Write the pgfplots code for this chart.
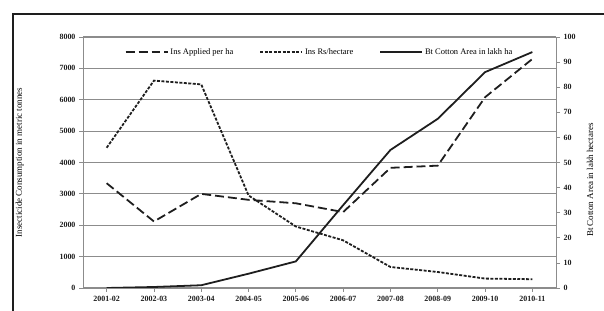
\documentclass[border=0pt]{standalone}
\usepackage{pgfplots}
\pgfplotsset{compat=1.18}
\usepackage{fontspec}
\setmainfont{Liberation Serif}
\definecolor{gridgray}{RGB}{140,140,140}
\definecolor{ink}{RGB}{30,30,30}
\begin{document}
\begin{tikzpicture}
\useasboundingbox (0,0) rectangle (604bp,311bp);
\fill[white] (0,0) rectangle (604bp,311bp);
\draw[line width=2.6pt, ink] (13bp,-20bp) -- (13bp,297bp) -- (640bp,297bp);
\begin{axis}[
  at={(83bp,23bp)}, anchor=south west,
  scale only axis, width=473bp, height=251bp,
  xmin=-0.5, xmax=9.5, ymin=0, ymax=8000,
  xtick={0,...,9},
  xticklabels={2001-02,2002-03,2003-04,2004-05,2005-06,2006-07,2007-08,2008-09,2009-10,2010-11},
  ytick={0,1000,...,8000},
  /pgf/number format/1000 sep={},
  /pgf/number format/assume math mode=true,
  ymajorgrids,
  grid style={gridgray, line width=1.2pt},
  axis line style={gridgray, line width=1pt},
  axis x line*=bottom, axis y line*=left,
  tick style={gridgray, line width=0.8pt},
  major tick length=4bp,
  tick align=outside,
  ticklabel style={font=\fontsize{8}{9}\selectfont\bfseries, text=ink},
  xticklabel style={yshift=-1bp},
  ylabel={Insecticide Consumption in metric tonnes},
  ylabel style={font=\fontsize{9}{10}\selectfont, at={(axis description cs:-0.118,0.5)}},
  legend style={at={(0.5,0.94)}, anchor=center, draw=none, fill=white, fill opacity=0, text opacity=1,
    font=\fontsize{8.5}{9}\selectfont, legend columns=3,
    /tikz/every even column/.append style={column sep=24bp}},
  legend image code/.code={\draw[#1] (0bp,0bp) -- (42bp,0bp);},
  legend cell align=left,
  clip=false,
]
\addplot[ink, line width=1.8pt, dash pattern=on 9pt off 4pt] coordinates {
 (0,3340) (1,2120) (2,3000) (3,2810) (4,2700) (5,2420) (6,3830) (7,3900) (8,6080) (9,7300)};
\addlegendentry{Ins Applied per ha}
\addplot[ink, line width=1.8pt, dash pattern=on 3pt off 1.5pt] coordinates {
 (0,4470) (1,6610) (2,6490) (3,2950) (4,1960) (5,1520) (6,670) (7,510) (8,300) (9,280)};
\addlegendentry{Ins Rs/hectare}
\addlegendimage{ink, line width=1.8pt}
\addlegendentry{Bt Cotton Area in lakh ha}
\draw[gridgray, line width=1pt] (rel axis cs:0,1) -- (rel axis cs:1,1);
\end{axis}
\begin{axis}[
  at={(83bp,23bp)}, anchor=south west,
  scale only axis, width=473bp, height=251bp,
  xmin=-0.5, xmax=9.5, ymin=0, ymax=100,
  ytick={0,10,...,100},
  axis x line=none,
  axis y line*=right,
  axis line style={gridgray, line width=1pt},
  tick style={gridgray, line width=0.8pt},
  major tick length=4bp,
  tick align=outside,
  /pgf/number format/assume math mode=true,
  ticklabel style={font=\fontsize{8}{9}\selectfont\bfseries, text=ink},
  ylabel={Bt Cotton Area in lakh hectares},
  ylabel style={font=\fontsize{9}{10}\selectfont, at={(axis description cs:1.058,0.43)}},
]
\addplot[ink, line width=1.8pt] coordinates {
 (0,0) (1,0.4) (2,1.1) (3,5.7) (4,10.6) (5,33) (6,55) (7,67.4) (8,86) (9,94)};
\end{axis}
\end{tikzpicture}
\end{document}
